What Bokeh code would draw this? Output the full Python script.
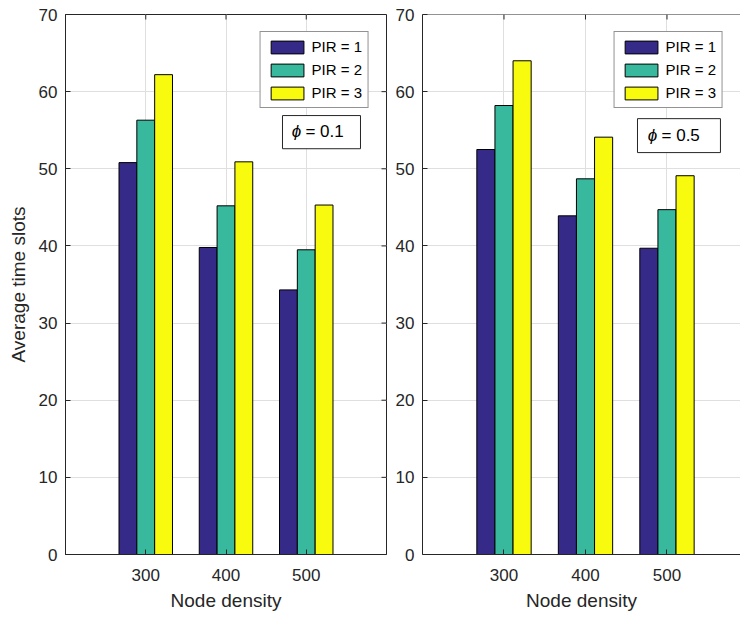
from bokeh.plotting import figure
from bokeh.layouts import row
from bokeh.models import (Range1d, FixedTicker, BoxAnnotation, Label, Span,
                          ColumnDataSource, Legend, LegendItem)
from bokeh.transform import dodge
from bokeh.embed import file_html
from bokeh.resources import INLINE

# ---- data ----
density = [300, 400, 500]
series_names = ["PIR = 1", "PIR = 2", "PIR = 3"]
left_pir1 = [50.8, 39.8, 34.3]
left_pir2 = [56.3, 45.2, 39.5]
left_pir3 = [62.2, 50.9, 45.3]
right_pir1 = [52.5, 43.9, 39.7]
right_pir2 = [58.2, 48.7, 44.7]
right_pir3 = [64.0, 54.1, 49.1]
y_ticks = [0, 10, 20, 30, 40, 50, 60, 70]
phi_values = ["0.1", "0.5"]

# ---- style ----
COLORS = ["#352a87", "#38b99e", "#f9fb0e"]
FONT = "Liberation Sans"
AX = "#262626"
GRID = "#dfdfdf"
BAR_W = 22.22
OFFS = [-22.22, 0.0, 22.22]
TICK_PX = 5
Y_MAX = 70
X_MIN = 200


def style_axis(ax):
    ax.axis_line_color = AX
    ax.axis_line_width = 1
    ax.major_tick_line_color = AX
    ax.major_tick_in = TICK_PX
    ax.major_tick_out = 0
    ax.minor_tick_line_color = None
    ax.major_label_text_font = FONT
    ax.major_label_text_color = AX
    ax.major_label_text_font_size = "17px"
    ax.axis_label_text_font = FONT
    ax.axis_label_text_font_size = "19px"
    ax.axis_label_text_font_style = "normal"
    ax.axis_label_text_color = AX


def make_panel(vals, x_end, width, mb_left, mb_right, ylabel, full_box, phi,
               box, phi_x, eq_x, txt_y):
    frame_w = width - mb_left - mb_right
    frame_h = 617 - 14 - 63
    ux = (x_end - X_MIN) / frame_w   # data units per pixel in x
    uy = Y_MAX / frame_h             # data units per pixel in y

    p = figure(width=width, height=617, output_backend="svg", toolbar_location=None,
               x_range=Range1d(X_MIN, x_end), y_range=Range1d(0, Y_MAX),
               min_border_left=mb_left, min_border_right=mb_right,
               min_border_top=14, min_border_bottom=63)
    p.background_fill_color = "white"
    p.border_fill_color = "white"
    if full_box:
        p.outline_line_color = AX
        p.outline_line_width = 1
    else:
        p.outline_line_color = None
        p.add_layout(Span(location=Y_MAX, dimension="width", line_color=AX,
                          line_width=1))

    xt = FixedTicker(ticks=density)
    yt = FixedTicker(ticks=y_ticks)
    p.xaxis.ticker = xt
    p.yaxis.ticker = yt
    p.xgrid.ticker = xt
    p.ygrid.ticker = yt
    p.grid.grid_line_color = GRID
    p.grid.grid_line_width = 1

    style_axis(p.xaxis[0])
    style_axis(p.yaxis[0])
    p.xaxis.axis_label = "Node density"
    p.xaxis.major_label_standoff = 14
    p.xaxis.axis_label_standoff = 6
    p.yaxis.major_label_standoff = 8
    if ylabel:
        p.yaxis.axis_label = ylabel
        p.yaxis.axis_label_standoff = 7

    src = ColumnDataSource(dict(x=density, s1=vals[0], s2=vals[1], s3=vals[2]))
    items = []
    for i, key in enumerate(["s1", "s2", "s3"]):
        r = p.vbar(x=dodge("x", OFFS[i]), top=key, width=BAR_W, source=src,
                   fill_color=COLORS[i], line_color="black", line_width=1)
        items.append(LegendItem(label=series_names[i], renderers=[r]))

    # mirrored (top / right) tick marks, as in a boxed axes
    p.segment(x0=density, y0=[Y_MAX] * len(density), x1=density,
              y1=[Y_MAX - TICK_PX * uy] * len(density), line_color=AX, line_width=1)
    if full_box:
        p.segment(x0=[x_end] * len(y_ticks), y0=y_ticks,
                  x1=[x_end - TICK_PX * ux] * len(y_ticks), y1=y_ticks,
                  line_color=AX, line_width=1)

    leg = Legend(items=items, location="top_right")
    leg.margin = 17
    leg.padding = 6
    leg.spacing = 6
    leg.glyph_width = 41
    leg.glyph_height = 16
    leg.label_height = 16
    leg.label_standoff = 4
    leg.label_text_font = FONT
    leg.label_text_font_size = "15px"
    leg.label_text_color = "black"
    leg.border_line_color = AX
    leg.border_line_width = 1
    leg.background_fill_color = "white"
    leg.background_fill_alpha = 1
    p.add_layout(leg)

    b = BoxAnnotation(left=box[0], right=box[1], top=box[2], bottom=box[3],
                      fill_color="white", fill_alpha=1, line_color=AX, line_width=1,
                      line_alpha=1)
    p.add_layout(b)
    p.add_layout(Label(x=phi_x, y=txt_y, text="ϕ", text_font=FONT,
                       text_font_size="17px", text_font_style="italic",
                       text_align="center", text_baseline="middle", text_color="black"))
    p.add_layout(Label(x=eq_x, y=txt_y, text="= " + phi, text_font=FONT,
                       text_font_size="17px", text_align="left",
                       text_baseline="middle", text_color="black"))
    return p


left = make_panel([left_pir1, left_pir2, left_pir3], 600, 392, 65, 6,
                  "Average time slots", True, phi_values[0],
                  (470.4, 567.6, 56.9, 52.6), 487.9, 499.0, 54.8)
right = make_panel([right_pir1, right_pir2, right_pir3], 590.2, 348, 30, 0,
                   None, False, phi_values[1],
                   (463.8, 565.6, 56.5, 52.1), 482.2, 493.3, 54.3)

layout = row(left, right, spacing=0)
open("out.html", "w").write(file_html(layout, INLINE))
